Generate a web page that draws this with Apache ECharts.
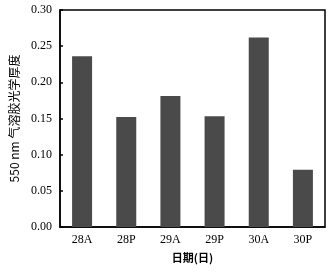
<!DOCTYPE html>
<html><head><meta charset="utf-8">
<script src="https://cdn.jsdelivr.net/npm/echarts@6/dist/echarts.min.js"></script>
<style>html,body{margin:0;padding:0;background:#fff}#c{width:331px;height:274px}</style>
</head><body><div id="c"></div>
<script>
const categories = ['28A','28P','29A','29P','30A','30P'];
const values = [0.236, 0.152, 0.181, 0.153, 0.262, 0.079];
const chart = echarts.init(document.getElementById('c'));
const font = 'Liberation Serif';
chart.setOption({
  animation: false,
  grid: { left: 56, right: 6, top: 10, bottom: 47, show: true, borderColor: '#000', borderWidth: 1.5 },
  xAxis: {
    type: 'category', data: categories,
    name: '日期(日)', nameLocation: 'middle', nameGap: 25,
    nameTextStyle: { fontFamily: 'Noto Sans CJK SC', fontSize: 11, color: '#000', fontWeight: 'bold' },
    axisLine: { lineStyle: { color: '#000', width: 1.5 } },
    axisTick: { inside: true, length: 3, lineStyle: { color: '#000' } },
    axisLabel: { fontFamily: font, fontSize: 12, color: '#000', margin: 7 }
  },
  yAxis: {
    type: 'value', min: 0, max: 0.3, interval: 0.05,
    name: '550 nm 气溶胶光学厚度', nameLocation: 'middle', nameGap: 40,
    nameTextStyle: { fontFamily: 'Noto Sans CJK SC', fontSize: 12, color: '#000' },
    axisLine: { show: true, lineStyle: { color: '#000', width: 1.5 } },
    axisTick: { show: true, inside: true, length: 3, lineStyle: { color: '#000', width: 1.5 } },
    splitLine: { show: false },
    axisLabel: { fontFamily: font, fontSize: 12, color: '#000', margin: 8,
      formatter: v => v.toFixed(2) }
  },
  series: [{
    type: 'bar', data: values, barWidth: 20,
    itemStyle: { color: '#4a4a4a' }
  }]
});
</script></body></html>
